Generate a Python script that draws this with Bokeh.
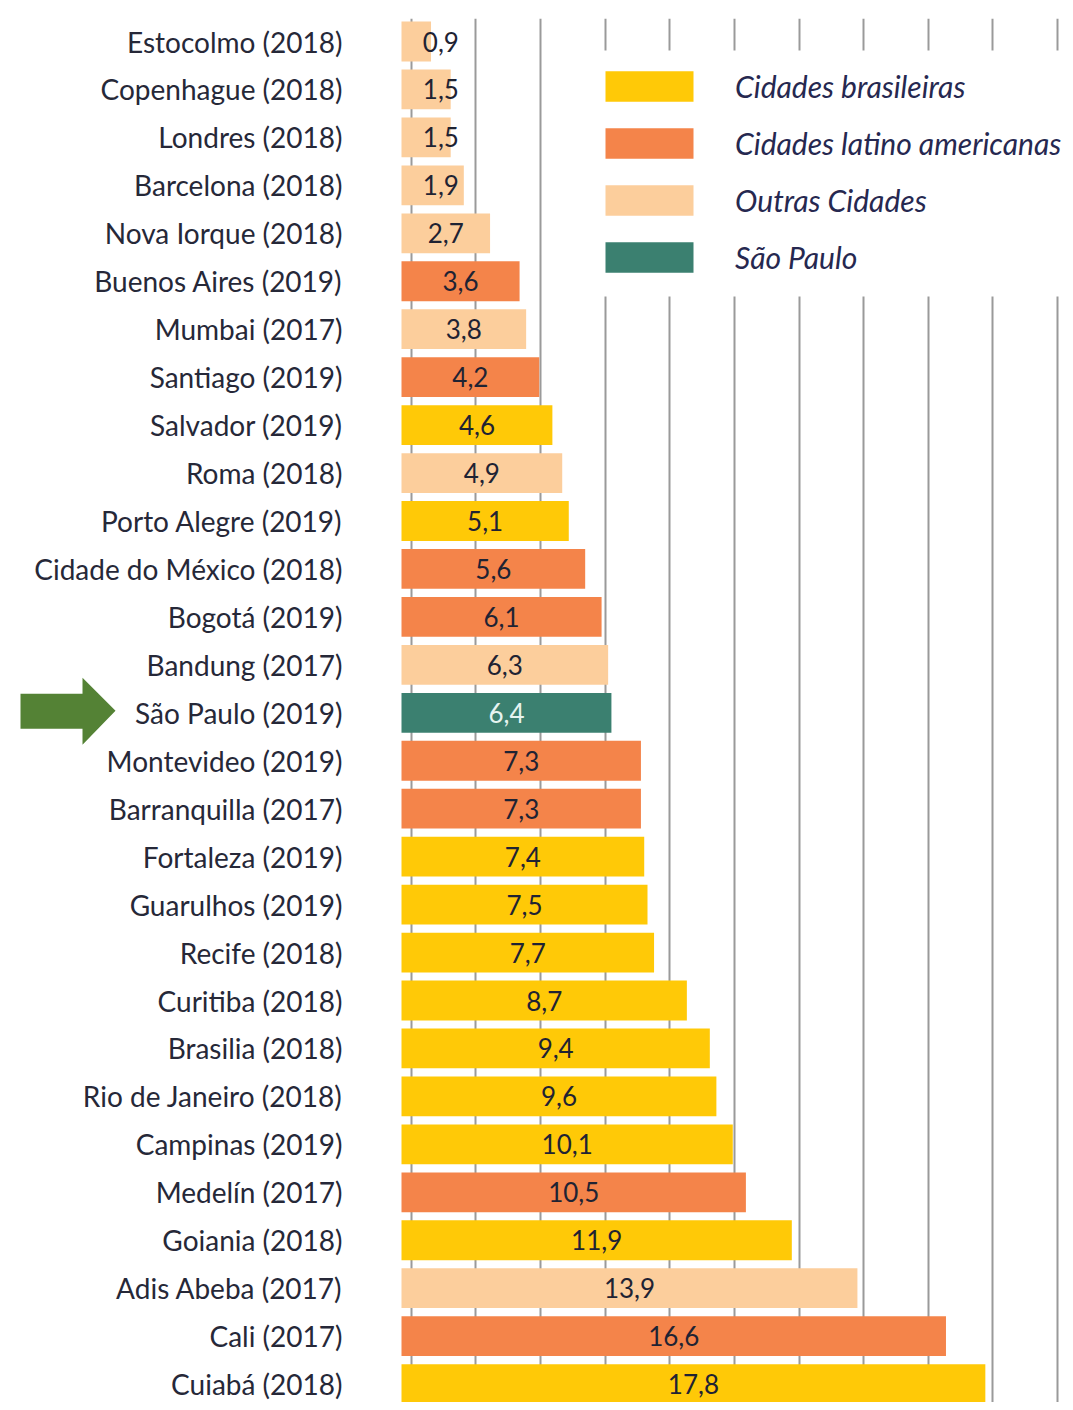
from bokeh.plotting import figure
from bokeh.models import (ColumnDataSource, Range1d, FixedTicker, CDSView, GroupFilter,
                          Legend, LegendItem)
from bokeh.embed import file_html
from bokeh.resources import INLINE
from bokeh.core.properties import value
import numpy as np

cities = ["Estocolmo (2018)", "Copenhague (2018)", "Londres (2018)", "Barcelona (2018)",
          "Nova Iorque (2018)", "Buenos Aires (2019)", "Mumbai (2017)", "Santiago (2019)",
          "Salvador (2019)", "Roma (2018)", "Porto Alegre (2019)", "Cidade do México (2018)",
          "Bogotá (2019)", "Bandung (2017)", "São Paulo (2019)", "Montevideo (2019)",
          "Barranquilla (2017)", "Fortaleza (2019)", "Guarulhos (2019)", "Recife (2018)",
          "Curitiba (2018)", "Brasilia (2018)", "Rio de Janeiro (2018)", "Campinas (2019)",
          "Medelín (2017)", "Goiania (2018)", "Adis Abeba (2017)", "Cali (2017)", "Cuiabá (2018)"]
values = [0.9, 1.5, 1.5, 1.9, 2.7, 3.6, 3.8, 4.2, 4.6, 4.9, 5.1, 5.6, 6.1, 6.3, 6.4,
          7.3, 7.3, 7.4, 7.5, 7.7, 8.7, 9.4, 9.6, 10.1, 10.5, 11.9, 13.9, 16.6, 17.8]
groups = ["O", "O", "O", "O", "O", "L", "O", "L", "B", "O", "B", "L", "L", "O", "S",
          "L", "L", "B", "B", "B", "B", "B", "B", "B", "L", "B", "O", "L", "B"]
group_names = {"B": "Cidades brasileiras", "L": "Cidades latino americanas",
               "O": "Outras Cidades", "S": "São Paulo"}
group_colors = {"B": "#FFC907", "L": "#F4844A", "O": "#FCCE9C", "S": "#3B8070"}
label_colors = {"B": "#1f2333", "L": "#1f2333", "O": "#1f2333", "S": "#e6f4f1"}

n = len(cities)
idx = list(range(n))
vals = np.array(values)

W, H = 1065, 1402
zero_px = 401          # pixel position of value 0
px_per_unit = 32.8
row = 47.95            # pixels per row
first_row_px = 41      # pixel y of first row centre
frame_top = 18         # gridlines start here

label_x = (342 - zero_px) / px_per_unit

src = ColumnDataSource(dict(
    y=idx, v=values, g=groups,
    lab=[f"{v:.1f}".replace(".", ",") for v in values],
    lx=list(np.maximum(vals / 2, 1.2)),
    lcol=[label_colors[g] for g in groups],
    city=cities,
    cx=[label_x] * n,
))

x_start = -zero_px / px_per_unit
x_end = (W - zero_px) / px_per_unit
y_top = -(first_row_px - frame_top) / row
y_bot = (H - first_row_px) / row

p = figure(width=W, height=H, output_backend="svg", toolbar_location=None,
           x_range=Range1d(x_start, x_end), y_range=Range1d(y_bot, y_top),
           min_border_left=0, min_border_right=0, min_border_top=frame_top,
           min_border_bottom=0)
p.outline_line_color = None
p.background_fill_color = "white"
p.border_fill_color = "white"
p.xaxis.visible = False
p.yaxis.visible = False

# vertical gridlines
p.xgrid.ticker = FixedTicker(ticks=[0.3 + 1.97 * k for k in range(11)])
p.xgrid.grid_line_color = "#9a9a9a"
p.xgrid.grid_line_width = 2
p.ygrid.grid_line_color = None

px2x = lambda pxv: (pxv - zero_px) / px_per_unit
px2y = lambda pyv: (pyv - first_row_px) / row

# white panel behind the legend (hides gridlines)
p.quad(left=[px2x(588)], right=[px2x(W + 5)], top=[px2y(50)], bottom=[px2y(296)],
       fill_color="white", line_color=None)

# city labels
p.text(x="cx", y="y", text="city", source=src, text_align="right", text_baseline="middle",
       text_font=value("Lato"), text_font_size="28px", text_color="#262838")

items = []
for g in ["B", "L", "O", "S"]:
    view = CDSView(filter=GroupFilter(column_name="g", group=g))
    r = p.hbar(y="y", right="v", left=0, height=0.83, source=src, view=view,
               fill_color=group_colors[g], line_color=None)
    items.append(LegendItem(label=group_names[g], renderers=[r]))

p.text(x="lx", y="y", text="lab", source=src, text_align="center", text_baseline="middle",
       text_font=value("Lato"), text_font_size="26px", text_color="lcol")

legend = Legend(items=items,
                location=(594, H - 50 - 245 + 19),
                orientation="vertical",
                glyph_width=110, glyph_height=38, label_height=38, spacing=19,
                label_standoff=31, padding=18, margin=0,
                label_text_font="Lato", label_text_font_style="italic",
                label_text_font_size="30px", label_text_color="#262850",
                label_text_baseline="middle",
                border_line_color=None, background_fill_alpha=0.0)
p.add_layout(legend, "center")

# green arrow pointing at São Paulo
sp = cities.index("São Paulo (2019)")
ay = lambda d: sp + d / row
p.patch(x=[px2x(20), px2x(82), px2x(82), px2x(115), px2x(82), px2x(82), px2x(20)],
        y=[ay(-19), ay(-19), ay(-35), ay(-2), ay(32), ay(16), ay(16)],
        fill_color="#548235", line_color=None)

open("out.html", "w").write(file_html(p, INLINE))
